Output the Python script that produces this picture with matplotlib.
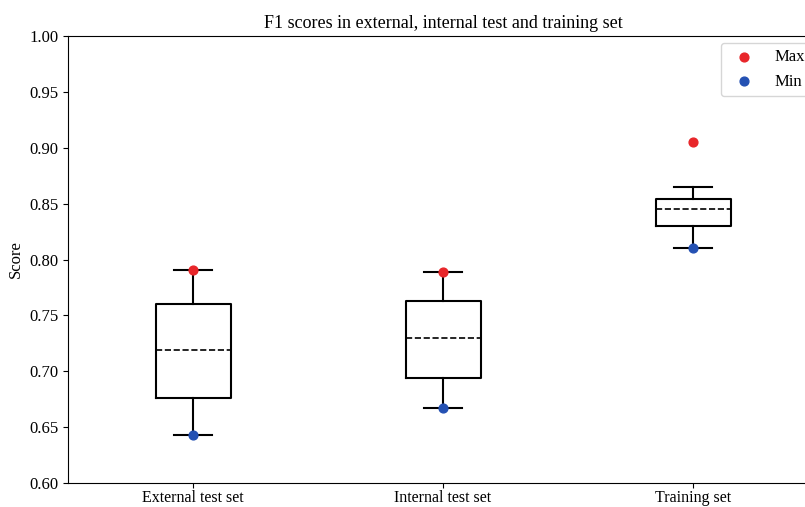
import matplotlib
matplotlib.use("Agg")
import matplotlib.pyplot as plt

plt.rcParams["font.family"] = ["Liberation Serif", "DejaVu Serif"]

groups = ["External test set", "Internal test set", "Training set"]
whisker_low = [0.643, 0.667, 0.810]
q1 = [0.676, 0.694, 0.830]
median = [0.719, 0.730, 0.845]
q3 = [0.760, 0.763, 0.854]
whisker_high = [0.791, 0.789, 0.865]
max_vals = [0.791, 0.789, 0.905]
min_vals = [0.643, 0.667, 0.810]

fig = plt.figure(figsize=(8.05, 5.07), dpi=100)
# axes run past the right edge of the figure, as in the cropped original
ax = fig.add_axes([68 / 805, 24 / 507, 750 / 805, 447 / 507])

stats = []
for i, name in enumerate(groups):
    stats.append({"label": name, "whislo": whisker_low[i], "q1": q1[i],
                  "med": median[i], "q3": q3[i], "whishi": whisker_high[i],
                  "fliers": []})

pos = list(range(1, len(groups) + 1))
ax.bxp(stats, positions=pos, widths=0.3, showfliers=False,
       boxprops=dict(color="black", linewidth=1.5),
       whiskerprops=dict(color="black", linewidth=1.5),
       capprops=dict(color="black", linewidth=1.5),
       medianprops=dict(color="black", linewidth=1.2, linestyle="--"))

ax.scatter(pos, max_vals, color="#e8262a", s=40, zorder=3, label="Max")
ax.scatter(pos, min_vals, color="#2451b3", s=40, zorder=3, label="Min")

ax.set_xlim(0.5, 3.5)
ax.set_ylim(0.60, 1.00)
ax.set_yticks([0.60, 0.65, 0.70, 0.75, 0.80, 0.85, 0.90, 0.95, 1.00])
ax.set_yticklabels([f"{v:.2f}" for v in ax.get_yticks()])
ax.tick_params(axis="y", labelsize=12)
ax.tick_params(axis="x", labelsize=11.5, pad=1.5)
ax.set_ylabel("Score", fontsize=12)
ax.set_title("F1 scores in external, internal test and training set", fontsize=13)

ax.legend(loc="upper right", fontsize=12, borderaxespad=0.4)

fig.savefig("out.png", dpi=100)
